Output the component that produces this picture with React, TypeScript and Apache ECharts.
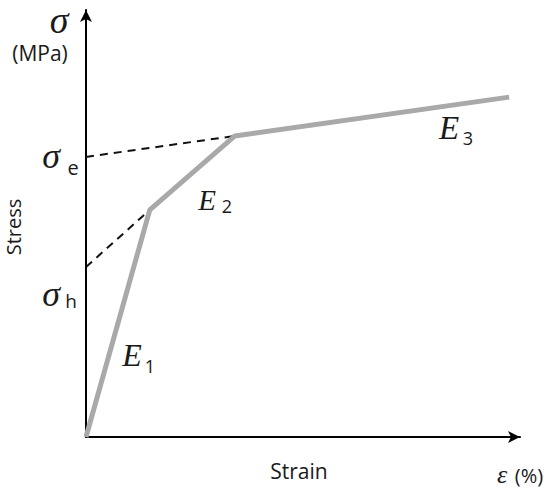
import React, { useEffect, useRef } from "react";
import * as echarts from "echarts";

const curveStrain = [0, 14.7, 34.3, 97.5];
const curveStress = [0, 53.2, 70.5, 79.6];
const hardeningDash = [[0, 39.8], [14.7, 53.2]];
const elasticDash = [[0, 65.6], [34.3, 70.5]];

export default function App() {
  const ref = useRef<HTMLDivElement>(null);
  useEffect(() => {
    document.body.style.margin = "0";
    const chart = echarts.init(ref.current!, null, { renderer: "svg" });
    const serif = "Liberation Serif";
    const sans = "Open Sans";
    const t = (text: string, x: number, y: number, size: number, family: string, extra: any = {}) => ({
      type: "text",
      x,
      y,
      style: {
        text,
        fontSize: size,
        fontFamily: family,
        fill: "#1a1a1a",
        align: "center",
        verticalAlign: "middle",
        ...extra,
      },
    });
    const it = { fontStyle: "italic" };
    chart.setOption({
      animation: false,
      grid: { left: 86, right: 30, top: 10, bottom: 53 },
      xAxis: {
        type: "value",
        min: 0,
        max: 100,
        axisLine: { show: true, lineStyle: { color: "#000", width: 2 }, symbol: ["none", "arrow"], symbolSize: [9, 12] },
        axisTick: { show: false },
        axisLabel: { show: false },
        splitLine: { show: false },
      },
      yAxis: {
        type: "value",
        min: 0,
        max: 100,
        axisLine: { show: true, lineStyle: { color: "#000", width: 2 }, symbol: ["none", "arrow"], symbolSize: [9, 12] },
        axisTick: { show: false },
        axisLabel: { show: false },
        splitLine: { show: false },
      },
      series: [
        {
          type: "line",
          data: hardeningDash,
          symbol: "none",
          lineStyle: { color: "#111", width: 2, type: [8, 6] },
        },
        {
          type: "line",
          data: elasticDash,
          symbol: "none",
          lineStyle: { color: "#111", width: 2, type: [8, 6] },
        },
        {
          type: "line",
          data: curveStrain.map((s, i) => [s, curveStress[i]]),
          symbol: "none",
          lineStyle: { color: "#a9a9a9", width: 5 },
        },
      ],
      graphic: [
        t("σ", 59, 20, 38, serif, it),
        t("(MPa)", 40, 53, 21, sans),
        { ...t("Stress", 13, 227, 20, sans, { lineHeight: 22 }), rotation: Math.PI / 2 },
        t("σ", 51, 156, 36, serif, it),
        t("e", 73, 167, 20, sans),
        t("σ", 51, 294, 36, serif, it),
        t("h", 71, 301, 19, sans),
        t("E", 132, 355, 32, serif, it),
        t("1", 150, 366, 18, sans),
        t("E", 207, 200, 29, serif, it),
        t("2", 227, 206, 18, sans),
        t("E", 449, 128, 33, serif, it),
        t("3", 468, 138, 18, sans),
        t("Strain", 299, 471, 21, sans),
        t("ε", 502, 474, 26, serif, it),
        t("(%)", 529, 475, 20, sans),
      ],
    });
    return () => chart.dispose();
  }, []);
  return <div ref={ref} style={{ width: 550, height: 490 }} />;
}
